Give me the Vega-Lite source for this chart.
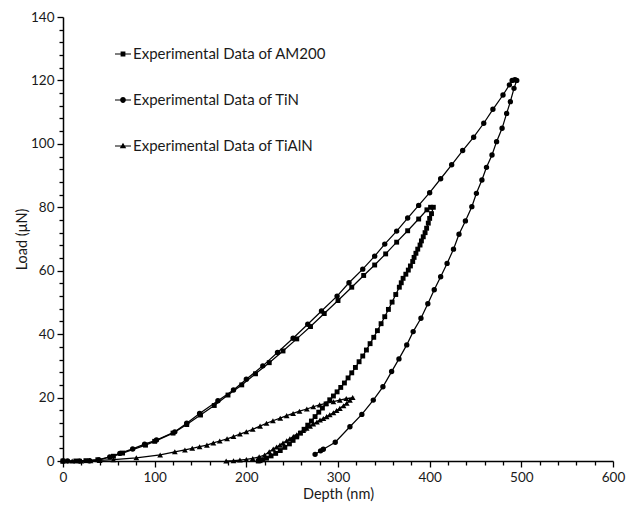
{
  "$schema": "https://vega.github.io/schema/vega-lite/v6.json",
  "width": 550,
  "height": 444,
  "autosize": "none",
  "padding": {"left": 63, "top": 17, "right": 17, "bottom": 56},
  "background": "white",
  "config": {
    "view": {"stroke": null},
    "font": "Lato",
    "axis": {
      "grid": false,
      "domainColor": "black",
      "domainWidth": 1.5,
      "tickColor": "black",
      "tickWidth": 1.3,
      "labelColor": "#1a1a1a",
      "labelFontSize": 13.5,
      "labelFont": "Lato",
      "titleFont": "Lato",
      "titleFontSize": 14.5,
      "titleFontWeight": "normal",
      "titleColor": "#1a1a1a",
      "labelFlush": false,
      "labelOverlap": false
    }
  },
  "data": {
    "values": [
      {"s":"A","i":1,"h":0,"p":0},{"s":"A","i":2,"h":14,"p":0},{"s":"A","i":3,"h":25,"p":0.1},{"s":"A","i":4,"h":38,"p":0.4},{"s":"A","i":5,"h":55,"p":1.5},{"s":"A","i":6,"h":65,"p":2.5},{"s":"A","i":7,"h":90,"p":5},{"s":"A","i":8,"h":100,"p":6.2},{"s":"A","i":9,"h":120,"p":8.8},{"s":"A","i":10,"h":135,"p":11.5},{"s":"A","i":11,"h":150,"p":14.5},{"s":"A","i":12,"h":165,"p":17.5},{"s":"A","i":13,"h":180,"p":20.8},{"s":"A","i":14,"h":195,"p":24},{"s":"A","i":15,"h":210,"p":27.5},{"s":"A","i":16,"h":225,"p":31},{"s":"A","i":17,"h":240,"p":34.7},{"s":"A","i":18,"h":255,"p":38.5},{"s":"A","i":19,"h":270,"p":42.4},{"s":"A","i":20,"h":285,"p":46.5},{"s":"A","i":21,"h":300,"p":50.6},{"s":"A","i":22,"h":315,"p":54.8},{"s":"A","i":23,"h":328,"p":58.5},{"s":"A","i":24,"h":340,"p":61.8},{"s":"A","i":25,"h":352,"p":65.3},{"s":"A","i":26,"h":364,"p":69},{"s":"A","i":27,"h":376,"p":72.6},{"s":"A","i":28,"h":388,"p":76.3},{"s":"A","i":29,"h":397,"p":79.2},{"s":"A","i":30,"h":401,"p":80},{"s":"A","i":31,"h":404,"p":80},
      {"s":"A","i":32,"h":402,"p":78},{"s":"A","i":33,"h":400,"p":76.5},{"s":"A","i":34,"h":398.5,"p":75},{"s":"A","i":35,"h":396.7,"p":73.4},{"s":"A","i":36,"h":395,"p":72},{"s":"A","i":37,"h":393,"p":70.7},{"s":"A","i":38,"h":391,"p":69.4},{"s":"A","i":39,"h":389.5,"p":68.1},{"s":"A","i":40,"h":387,"p":66.8},{"s":"A","i":41,"h":385,"p":65.5},{"s":"A","i":42,"h":383,"p":64.2},{"s":"A","i":43,"h":381.5,"p":62.9},{"s":"A","i":44,"h":379,"p":61.5},{"s":"A","i":45,"h":376.7,"p":60.2},{"s":"A","i":46,"h":374,"p":58.9},{"s":"A","i":47,"h":371,"p":57.6},{"s":"A","i":48,"h":369,"p":56.2},{"s":"A","i":49,"h":366.9,"p":54.8},{"s":"A","i":50,"h":363,"p":52.5},{"s":"A","i":51,"h":359,"p":50.1},{"s":"A","i":52,"h":355,"p":47.8},{"s":"A","i":53,"h":351,"p":45.5},{"s":"A","i":54,"h":347,"p":43.3},{"s":"A","i":55,"h":343,"p":41.1},{"s":"A","i":56,"h":339,"p":39},{"s":"A","i":57,"h":335,"p":37},{"s":"A","i":58,"h":331,"p":35},{"s":"A","i":59,"h":327,"p":33.1},{"s":"A","i":60,"h":323,"p":31.3},{"s":"A","i":61,"h":319,"p":29.5},{"s":"A","i":62,"h":315,"p":27.8},{"s":"A","i":63,"h":311,"p":26.2},{"s":"A","i":64,"h":307,"p":24.6},{"s":"A","i":65,"h":303,"p":23.2},{"s":"A","i":66,"h":299,"p":21.8},{"s":"A","i":67,"h":295,"p":20.5},{"s":"A","i":68,"h":291,"p":19.3},{"s":"A","i":69,"h":287,"p":18},{"s":"A","i":70,"h":283,"p":16.7},{"s":"A","i":71,"h":279,"p":15.4},{"s":"A","i":72,"h":275,"p":14},{"s":"A","i":73,"h":271,"p":12.6},{"s":"A","i":74,"h":267,"p":11.3},{"s":"A","i":75,"h":263,"p":10},{"s":"A","i":76,"h":259,"p":8.8},{"s":"A","i":77,"h":255,"p":7.6},{"s":"A","i":78,"h":251,"p":6.5},{"s":"A","i":79,"h":247,"p":5.4},{"s":"A","i":80,"h":242,"p":4.3},{"s":"A","i":81,"h":237,"p":3.3},{"s":"A","i":82,"h":232,"p":2.4},{"s":"A","i":83,"h":227,"p":1.6},{"s":"A","i":84,"h":222,"p":0.9},{"s":"A","i":85,"h":218,"p":0.4},{"s":"A","i":86,"h":215,"p":0.1},{"s":"A","i":87,"h":213,"p":0},
      {"s":"T","i":1,"h":0,"p":0},{"s":"T","i":2,"h":5,"p":0},{"s":"T","i":3,"h":18,"p":0},{"s":"T","i":4,"h":29,"p":0.1},{"s":"T","i":5,"h":39,"p":0.3},{"s":"T","i":6,"h":51,"p":1.3},{"s":"T","i":7,"h":62,"p":2.4},{"s":"T","i":8,"h":76,"p":3.8},{"s":"T","i":9,"h":89,"p":5.3},{"s":"T","i":10,"h":102,"p":6.6},{"s":"T","i":11,"h":122,"p":9.2},{"s":"T","i":12,"h":135,"p":11.9},{"s":"T","i":13,"h":149,"p":15},{"s":"T","i":14,"h":169,"p":19},{"s":"T","i":15,"h":186,"p":22.4},{"s":"T","i":16,"h":200,"p":25.8},{"s":"T","i":17,"h":218,"p":30},{"s":"T","i":18,"h":234,"p":34.2},{"s":"T","i":19,"h":251,"p":38.7},{"s":"T","i":20,"h":267,"p":43.1},{"s":"T","i":21,"h":282,"p":47.3},{"s":"T","i":22,"h":299,"p":52},{"s":"T","i":23,"h":312,"p":56.2},{"s":"T","i":24,"h":327,"p":60.5},{"s":"T","i":25,"h":340,"p":64.6},{"s":"T","i":26,"h":351,"p":68.4},{"s":"T","i":27,"h":364,"p":72.5},{"s":"T","i":28,"h":376,"p":76.6},{"s":"T","i":29,"h":388,"p":80.6},{"s":"T","i":30,"h":400,"p":84.6},{"s":"T","i":31,"h":412,"p":89},{"s":"T","i":32,"h":424,"p":93.4},{"s":"T","i":33,"h":436,"p":97.9},{"s":"T","i":34,"h":448,"p":102.1},{"s":"T","i":35,"h":459,"p":106.5},{"s":"T","i":36,"h":469,"p":110.9},{"s":"T","i":37,"h":480,"p":115.4},{"s":"T","i":38,"h":487,"p":118.6},{"s":"T","i":39,"h":490,"p":120},{"s":"T","i":40,"h":493,"p":120.2},{"s":"T","i":41,"h":495,"p":120},
      {"s":"T","i":42,"h":492,"p":117.5},{"s":"T","i":43,"h":488,"p":113.3},{"s":"T","i":44,"h":484,"p":109.6},{"s":"T","i":45,"h":479,"p":104.9},{"s":"T","i":46,"h":473,"p":100.7},{"s":"T","i":47,"h":468,"p":96.5},{"s":"T","i":48,"h":462,"p":92.6},{"s":"T","i":49,"h":457,"p":88.6},{"s":"T","i":50,"h":451,"p":84.4},{"s":"T","i":51,"h":446,"p":80.2},{"s":"T","i":52,"h":439,"p":75.7},{"s":"T","i":53,"h":432,"p":71.5},{"s":"T","i":54,"h":426,"p":66.8},{"s":"T","i":55,"h":419,"p":62.3},{"s":"T","i":56,"h":412,"p":58.1},{"s":"T","i":57,"h":405,"p":54},{"s":"T","i":58,"h":398,"p":49.6},{"s":"T","i":59,"h":390.5,"p":45},{"s":"T","i":60,"h":382,"p":40.8},{"s":"T","i":61,"h":375,"p":36.6},{"s":"T","i":62,"h":366.5,"p":32.2},{"s":"T","i":63,"h":358.5,"p":28.2},{"s":"T","i":64,"h":349,"p":23.4},{"s":"T","i":65,"h":338.5,"p":19.2},{"s":"T","i":66,"h":326,"p":14.7},{"s":"T","i":67,"h":313,"p":10.8},{"s":"T","i":68,"h":297,"p":5.9},{"s":"T","i":69,"h":284,"p":3.7},{"s":"T","i":70,"h":281,"p":3.2},{"s":"T","i":71,"h":275,"p":2.1},
      {"s":"L","i":1,"h":0,"p":0},{"s":"L","i":2,"h":10,"p":0},{"s":"L","i":3,"h":20,"p":0},{"s":"L","i":4,"h":30,"p":0.1},{"s":"L","i":5,"h":40,"p":0.2},{"s":"L","i":6,"h":55,"p":0.4},{"s":"L","i":7,"h":80,"p":1},{"s":"L","i":8,"h":106,"p":1.9},{"s":"L","i":9,"h":122,"p":2.9},{"s":"L","i":10,"h":133,"p":3.5},{"s":"L","i":11,"h":141,"p":4},{"s":"L","i":12,"h":149,"p":4.5},{"s":"L","i":13,"h":157,"p":5},{"s":"L","i":14,"h":164,"p":5.7},{"s":"L","i":15,"h":171,"p":6.3},{"s":"L","i":16,"h":179,"p":7},{"s":"L","i":17,"h":186,"p":7.7},{"s":"L","i":18,"h":193,"p":8.5},{"s":"L","i":19,"h":200,"p":9.2},{"s":"L","i":20,"h":207,"p":10},{"s":"L","i":21,"h":215,"p":11},{"s":"L","i":22,"h":222,"p":11.9},{"s":"L","i":23,"h":229,"p":12.7},{"s":"L","i":24,"h":237,"p":13.5},{"s":"L","i":25,"h":244,"p":14.3},{"s":"L","i":26,"h":251,"p":15},{"s":"L","i":27,"h":258,"p":15.7},{"s":"L","i":28,"h":266,"p":16.4},{"s":"L","i":29,"h":273,"p":17.1},{"s":"L","i":30,"h":280,"p":17.7},{"s":"L","i":31,"h":287,"p":18.2},{"s":"L","i":32,"h":295,"p":18.7},{"s":"L","i":33,"h":302,"p":19.2},{"s":"L","i":34,"h":309,"p":19.7},{"s":"L","i":35,"h":316,"p":20},
      {"s":"L","i":36,"h":313,"p":19.2},{"s":"L","i":37,"h":309.5,"p":18.2},{"s":"L","i":38,"h":306,"p":17.4},{"s":"L","i":39,"h":302,"p":16.6},{"s":"L","i":40,"h":298.5,"p":15.9},{"s":"L","i":41,"h":295,"p":15.2},{"s":"L","i":42,"h":291,"p":14.6},{"s":"L","i":43,"h":287.6,"p":14},{"s":"L","i":44,"h":284,"p":13.4},{"s":"L","i":45,"h":280.4,"p":12.9},{"s":"L","i":46,"h":277,"p":12.3},{"s":"L","i":47,"h":273,"p":11.7},{"s":"L","i":48,"h":269.5,"p":11},{"s":"L","i":49,"h":265.8,"p":10.3},{"s":"L","i":50,"h":262,"p":9.6},{"s":"L","i":51,"h":258.5,"p":8.9},{"s":"L","i":52,"h":255,"p":8.3},{"s":"L","i":53,"h":251.3,"p":7.7},{"s":"L","i":54,"h":247.5,"p":7},{"s":"L","i":55,"h":244,"p":6.4},{"s":"L","i":56,"h":240,"p":5.7},{"s":"L","i":57,"h":236.7,"p":5},{"s":"L","i":58,"h":233,"p":4.4},{"s":"L","i":59,"h":229.4,"p":3.8},{"s":"L","i":60,"h":225,"p":2.9},{"s":"L","i":61,"h":220,"p":1.9},{"s":"L","i":62,"h":214,"p":1.3},{"s":"L","i":63,"h":207,"p":0.8},{"s":"L","i":64,"h":200,"p":0.5},{"s":"L","i":65,"h":193,"p":0.3},{"s":"L","i":66,"h":186,"p":0.1},{"s":"L","i":67,"h":178,"p":0}
    ]
  },
  "encoding": {
    "x": {
      "field": "h", "type": "quantitative",
      "scale": {"domain": [0, 600], "nice": false, "zero": false},
      "axis": {
        "title": "Depth (nm)",
        "values": [0,20,40,60,80,100,120,140,160,180,200,220,240,260,280,300,320,340,360,380,400,420,440,460,480,500,520,540,560,580,600],
        "labelExpr": "datum.value % 100 === 0 ? datum.label : ''",
        "tickSize": {"condition": {"test": "datum.value % 100 === 0", "value": 6}, "value": 4},
        "labelPadding": 3,
        "titlePadding": 4,
        "labelOverlap": false
      }
    },
    "y": {
      "field": "p", "type": "quantitative",
      "scale": {"domain": [0, 140], "nice": false},
      "axis": {
        "title": "Load (μN)",
        "values": [0,4,8,12,16,20,24,28,32,36,40,44,48,52,56,60,64,68,72,76,80,84,88,92,96,100,104,108,112,116,120,124,128,132,136,140],
        "labelExpr": "datum.value % 20 === 0 ? datum.label : ''",
        "tickSize": {"condition": {"test": "datum.value % 20 === 0", "value": 6}, "value": 4},
        "labelPadding": 3,
        "titlePadding": 1,
        "labelOverlap": false
      }
    }
  },
  "layer": [
    {
      "mark": {"type": "line", "color": "black", "strokeWidth": 1.25},
      "encoding": {
        "detail": {"field": "s", "type": "nominal"},
        "order": {"field": "i", "type": "quantitative"}
      }
    },
    {
      "mark": {"type": "point", "filled": true, "color": "black", "opacity": 1},
      "encoding": {
        "shape": {"field": "s", "type": "nominal", "scale": {"domain": ["A", "T", "L"], "range": ["square", "circle", "triangle-up"]}, "legend": null},
        "size": {"field": "s", "type": "nominal", "scale": {"domain": ["A", "T", "L"], "range": [24, 34, 32]}, "legend": null}
      }
    },
    {
      "data": {"values": []},
      "mark": {"type": "point", "filled": true, "color": "black", "opacity": 1},
      "encoding": {
        "shape": {
          "field": "s", "type": "nominal",
          "scale": {"domain": ["A", "T", "L"], "range": [
            "M-1,-0.075H1V0.075H-1Z M-0.3,-0.3H0.3V0.3H-0.3Z",
            "M-1,-0.075H1V0.075H-1Z M0.36,0A0.36,0.36,0,1,1,-0.36,0A0.36,0.36,0,1,1,0.36,0Z",
            "M-1,-0.075H1V0.075H-1Z M0,-0.42L0.4,0.28H-0.4Z"
          ]},
          "legend": {
            "orient": "none",
            "legendX": 52,
            "legendY": 29,
            "direction": "vertical",
            "title": null,
            "padding": 0,
            "symbolSize": 256,
            "symbolFillColor": "black",
            "symbolStrokeWidth": 0,
            "symbolOpacity": 1,
            "labelFontSize": 15,
            "labelFont": "Lato",
            "labelColor": "#1a1a1a",
            "labelOffset": 2,
            "labelLimit": 400,
            "rowPadding": 30,
            "labelExpr": "datum.label === 'A' ? 'Experimental Data of AM200' : datum.label === 'T' ? 'Experimental Data of TiN' : 'Experimental Data of TiAlN'"
          }
        }
      }
    }
  ],
  "resolve": {"scale": {"shape": "independent"}}
}
